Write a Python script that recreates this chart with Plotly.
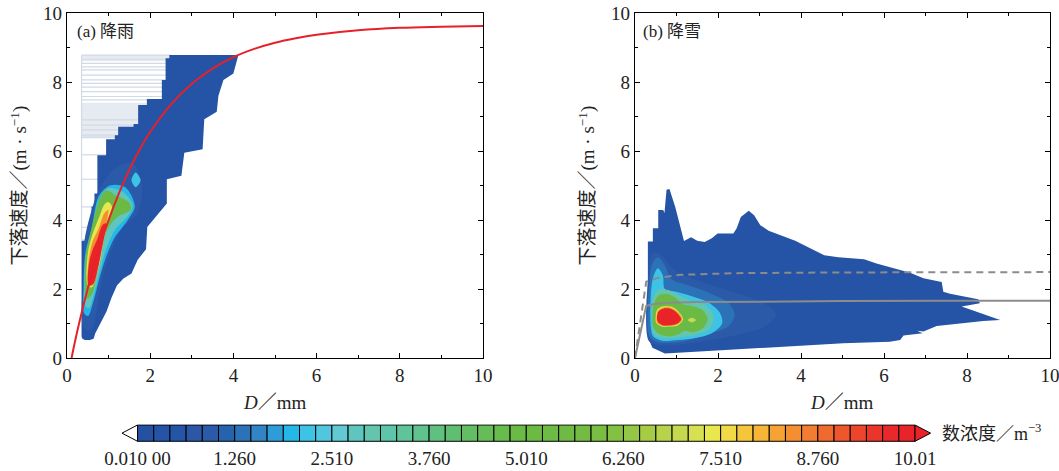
import plotly.graph_objects as go

W, H = 1059, 471

# ---------------- data ----------------
axis_ticks = [0, 2, 4, 6, 8, 10]

level_min, level_max = 0.01, 10.01
level_colors = [
    "#2451a2", "#2553a5", "#2455a7", "#2b57a6", "#2b5ba8", "#2563ad", "#2c72b8", "#3384c4",
    "#2c9dd8", "#24b7e8", "#3cc3e5", "#50c6df", "#62c9d3", "#5ec6bf", "#63c5ae", "#5ec5a8",
    "#5fc49a", "#60c28e", "#5fc080", "#60be72", "#62bd64", "#66bc56", "#68bb4d", "#6aba45",
    "#6cb944", "#6dba44", "#6eba44", "#74bb44", "#79bd43", "#84c143", "#93c745", "#a6cc46",
    "#b7d34c", "#c5d94f", "#d6e050", "#e8e74e", "#f0da45", "#f5c63c", "#f6b536", "#f6a333",
    "#f48f31", "#f27d30", "#f0692e", "#ee562d", "#ec452c", "#ea352b", "#e8282a", "#e82429",
]
cb_tickvals = [0.01, 1.26, 2.51, 3.76, 5.01, 6.26, 7.51, 8.76, 10.01]
cb_ticktext = ["0.010 00", "1.260", "2.510", "3.760", "5.010", "6.260", "7.510", "8.760", "10.01"]

# (a) rain: fitted fall-speed curve (red)
rain_fit_d = [0.11, 0.2, 0.3, 0.4, 0.5, 0.6, 0.8, 1.0, 1.25, 1.5, 1.75, 2.0, 2.5, 3.0, 3.5,
              4.0, 4.5, 5.0, 5.5, 6.0, 7.0, 8.0, 9.0, 10.0]
rain_fit_v = [0.0, 0.52, 1.05, 1.55, 2.02, 2.46, 3.28, 4.00, 4.78, 5.46, 6.05, 6.55, 7.35, 7.95, 8.39,
              8.72, 8.96, 9.14, 9.27, 9.37, 9.50, 9.57, 9.60, 9.62]

# (a) rain: density envelope and inner levels (D mm, V m/s), with level value
rain_env_val = 0.3
rain_env_d = [0.35, 0.35, 0.49, 0.49, 0.59, 0.59, 0.66, 0.66, 0.73, 0.73, 0.94, 0.94, 1.15, 1.15,
              1.23, 1.23, 1.60, 1.60, 1.71, 1.71, 1.92, 1.92, 2.28, 2.28, 2.37, 2.37, 2.46, 2.46,
              4.12, 4.00, 3.76, 3.64, 3.60, 3.30, 3.26, 2.82, 2.75, 2.40, 2.40, 2.20, 1.93, 1.90,
              1.70, 1.55, 1.35, 1.20, 1.07, 0.95, 0.80, 0.68, 0.64, 0.55, 0.43, 0.37]
rain_env_v = [0.62, 3.40, 3.40, 3.77, 3.77, 4.39, 4.39, 4.77, 4.77, 5.88, 5.88, 6.34, 6.34, 6.46,
              6.46, 6.70, 6.70, 6.78, 6.78, 7.33, 7.33, 7.51, 7.51, 8.06, 8.06, 8.69, 8.69, 8.78,
              8.78, 8.25, 8.06, 7.60, 7.14, 6.92, 6.05, 5.95, 5.28, 5.18, 4.48, 4.20, 3.80, 3.15,
              2.85, 2.45, 2.30, 2.10, 1.75, 1.35, 1.00, 0.72, 0.56, 0.52, 0.52, 0.56]

rain_halo_val = 1.0
rain_halo_d = [0.38, 0.50, 0.63, 0.72, 0.84, 1.03, 1.32, 1.70, 1.80, 1.58, 1.30, 1.03, 0.76, 0.62, 0.42, 0.38]
rain_halo_v = [0.95, 0.80, 0.90, 1.45, 2.25, 3.00, 3.75, 4.20, 5.00, 5.65, 5.60, 5.35, 4.85, 4.40, 3.40, 2.20]

rain_cyan_val = 1.95
rain_cyan_d = [0.41, 0.51, 0.63, 0.76, 0.93, 1.14, 1.45, 1.63, 1.40, 1.03, 0.76, 0.60, 0.44, 0.40]
rain_cyan_v = [1.30, 1.22, 1.62, 2.22, 2.90, 3.48, 3.98, 4.40, 4.95, 5.00, 4.68, 3.80, 3.03, 2.06]

rain_blob_val = 2.2
rain_blob_d = [1.55, 1.65, 1.77, 1.65]
rain_blob_v = [5.15, 5.38, 5.15, 4.95]

rain_teal_val = 2.8
rain_teal_d = [0.44, 0.53, 0.65, 0.78, 0.94, 1.16, 1.47, 1.58, 1.36, 1.00, 0.78, 0.61, 0.46, 0.42]
rain_teal_v = [1.50, 1.45, 1.86, 2.46, 3.16, 3.72, 4.12, 4.42, 4.80, 4.92, 4.62, 3.80, 3.00, 2.10]

rain_green_val = 4.9
rain_green_d = [0.46, 0.59, 0.71, 0.80, 0.96, 1.20, 1.53, 1.49, 1.16, 0.95, 0.82, 0.70, 0.58, 0.46, 0.43]
rain_green_v = [1.72, 1.82, 2.42, 3.01, 3.69, 4.08, 4.30, 4.52, 4.72, 4.86, 4.70, 4.30, 3.71, 3.03, 2.26]

rain_yellow_val = 7.4
rain_yellow_d = [0.50, 0.60, 0.71, 0.80, 0.88, 1.00, 1.08, 0.99, 0.90, 0.78, 0.62, 0.50]
rain_yellow_v = [2.10, 2.05, 2.42, 2.84, 3.42, 4.00, 4.39, 4.52, 4.45, 4.10, 3.61, 3.03]

rain_orange_val = 8.5
rain_orange_d = [0.52, 0.63, 0.75, 0.85, 0.95, 0.99, 0.89, 0.76, 0.62, 0.52]
rain_orange_v = [2.08, 2.12, 2.66, 3.28, 3.90, 4.30, 4.18, 3.75, 3.40, 2.85]

rain_red_val = 9.9
rain_red_d = [0.52, 0.63, 0.74, 0.82, 0.90, 0.94, 0.85, 0.73, 0.62, 0.53]
rain_red_v = [2.10, 2.15, 2.58, 3.05, 3.55, 3.90, 3.85, 3.45, 3.15, 2.75]

# (a) pale streak artefacts left of the envelope
streak_v = [3.42, 3.79, 4.38, 5.18, 5.89, 6.40, 6.46, 6.61, 6.75, 6.90, 7.48, 7.58, 7.72, 7.85,
            7.96, 8.06, 8.20, 8.35, 8.44, 8.54, 8.66, 8.78]
streak_end = [0.60, 0.80, 1.00, 1.00, 1.00, 2.50, 2.50, 2.50, 2.50, 2.50, 2.50, 2.50, 2.50, 2.50,
              2.50, 2.50, 2.50, 2.50, 2.50, 2.50, 2.50, 2.50]
streak_left = 0.35
pale_band_v = [6.36, 7.40]
pale_top_v = [8.60, 8.78]

# (b) snow: envelope and inner levels
snow_env_val = 0.3
snow_env_d = [0.31, 0.31, 0.43, 0.43, 0.56, 0.56, 0.68, 0.71, 0.76, 0.83, 0.97, 1.08, 1.18, 1.35,
              1.50, 1.68, 1.85, 1.99, 2.37, 2.45, 2.55, 2.74, 2.87, 3.02, 3.22, 3.86, 4.15, 4.56,
              4.90, 5.52, 5.82, 6.31, 6.63, 6.95, 7.39, 7.43, 7.59, 8.27, 8.31, 7.87, 8.80, 8.39,
              7.75, 7.51, 7.27, 6.95, 6.80, 6.93, 6.47, 6.39, 6.14, 5.02, 4.10, 2.97, 2.00, 1.20,
              0.72, 0.42, 0.31]
snow_env_v = [0.72, 3.38, 3.38, 3.76, 3.76, 4.29, 4.29, 4.20, 4.88, 4.90, 4.38, 3.90, 3.39, 3.50,
              3.40, 3.36, 3.47, 3.61, 3.61, 3.76, 4.09, 4.27, 4.14, 3.85, 3.69, 3.40, 3.23, 2.98,
              2.92, 2.86, 2.74, 2.57, 2.47, 2.31, 2.20, 1.92, 1.86, 1.70, 1.59, 1.49, 1.10, 1.07,
              1.00, 0.96, 0.93, 0.77, 0.79, 0.72, 0.65, 0.52, 0.47, 0.43, 0.37, 0.28, 0.23, 0.18,
              0.13, 0.30, 0.60]

snow_mid_val = 0.9
snow_mid_d = [0.33, 0.33, 0.42, 0.62, 0.95, 1.60, 2.40, 3.10, 3.40, 3.10, 2.40, 1.60, 1.00, 0.55]
snow_mid_v = [0.50, 2.50, 3.05, 3.00, 2.55, 2.20, 1.90, 1.60, 1.25, 0.90, 0.65, 0.48, 0.38, 0.38]

snow_halo_val = 1.4
snow_halo_d = [0.34, 0.34, 0.42, 0.55, 0.72, 0.88, 1.30, 1.80, 2.25, 2.40, 2.25, 1.80, 1.30, 0.90, 0.50]
snow_halo_v = [0.65, 2.10, 2.75, 2.92, 2.68, 2.28, 2.10, 1.88, 1.60, 1.25, 0.92, 0.70, 0.52, 0.44, 0.48]

snow_cyan_val = 2.2
snow_cyan_d = [0.38, 0.38, 0.44, 0.55, 0.67, 0.72, 1.00, 1.35, 1.75, 2.05, 2.10, 1.85, 1.45, 1.05, 0.65, 0.44]
snow_cyan_v = [0.90, 1.80, 2.35, 2.60, 2.40, 2.00, 1.92, 1.80, 1.62, 1.30, 1.00, 0.72, 0.58, 0.52, 0.50, 0.62]

snow_teal_val = 3.0
snow_teal_d = [0.41, 0.43, 0.55, 0.80, 1.05, 1.35, 1.70, 1.90, 1.80, 1.45, 1.10, 0.70, 0.47]
snow_teal_v = [1.00, 1.72, 1.97, 1.97, 1.82, 1.66, 1.52, 1.20, 0.84, 0.67, 0.61, 0.57, 0.68]

snow_green_val = 4.9
snow_green_d = [0.42, 0.45, 0.56, 0.75, 0.98, 1.15, 1.35, 1.60, 1.75, 1.64, 1.40, 1.20, 1.05, 0.80, 0.56, 0.43]
snow_green_v = [1.20, 1.56, 1.80, 1.86, 1.74, 1.56, 1.51, 1.41, 1.15, 0.87, 0.75, 0.79, 0.69, 0.63, 0.71, 0.92]

snow_yellow_val = 7.4
snow_yellow_d = [0.50, 0.53, 0.66, 0.86, 1.02, 1.16, 1.04, 0.85, 0.63, 0.51]
snow_yellow_v = [1.20, 1.39, 1.49, 1.49, 1.38, 1.12, 0.95, 0.91, 0.92, 1.02]

snow_orange_val = 8.5
snow_orange_d = [0.52, 0.55, 0.67, 0.86, 1.00, 1.14, 1.02, 0.85, 0.64, 0.53]
snow_orange_v = [1.20, 1.37, 1.46, 1.46, 1.36, 1.12, 0.97, 0.93, 0.94, 1.03]

snow_red_val = 9.9
snow_red_d = [0.53, 0.57, 0.68, 0.85, 0.98, 1.11, 1.01, 0.85, 0.65, 0.55]
snow_red_v = [1.20, 1.35, 1.43, 1.43, 1.34, 1.12, 0.99, 0.95, 0.96, 1.05]

snow_dot_val = 7.0
snow_dot_d = [1.27, 1.37, 1.47, 1.37]
snow_dot_v = [1.10, 1.17, 1.10, 1.03]

# (b) snow fall-speed relations (grey)
snow_solid_d = [0, 0.27, 0.5, 0.83, 1.5, 3.0, 5.0, 7.5, 10.0]
snow_solid_v = [0, 1.51, 1.57, 1.60, 1.62, 1.64, 1.65, 1.66, 1.66]
snow_dash_d = [0, 0.27, 0.52, 1.08, 2.45, 5.0, 10.0]
snow_dash_v = [0, 2.21, 2.31, 2.41, 2.46, 2.48, 2.49]

# ---------------- helpers ----------------
step = (level_max - level_min) / len(level_colors)


def color_of(val):
    i = int((val - level_min) / step)
    return level_colors[max(0, min(len(level_colors) - 1, i))]


def poly(d, v, val, xa, ya, smooth=True):
    c = color_of(val)
    return go.Scatter(
        x=list(d) + [d[0]], y=list(v) + [v[0]], mode="lines", fill="toself",
        fillcolor=c,
        line=dict(width=0, color=c, shape="spline" if smooth else "linear", smoothing=0.9),
        hoverinfo="skip", xaxis=xa, yaxis=ya,
    )


fig = go.Figure()

# ----- panel (a) -----
for band in (pale_band_v, pale_top_v):
    fig.add_trace(go.Scatter(
        x=[streak_left, 2.5, 2.5, streak_left, streak_left],
        y=[band[0], band[0], band[1], band[1], band[0]],
        mode="lines", fill="toself", fillcolor="#e6ebf2", line=dict(width=0),
        hoverinfo="skip", xaxis="x", yaxis="y"))
sx, sy = [], []
for v, e in zip(streak_v, streak_end):
    sx += [streak_left, e, None]
    sy += [v, v, None]
sx += [streak_left, streak_left, None]
sy += [streak_v[0], streak_v[-1], None]
fig.add_trace(go.Scatter(x=sx, y=sy, mode="lines", line=dict(color="#d2dae6", width=1.2),
                         hoverinfo="skip", xaxis="x", yaxis="y"))

fig.add_trace(poly(rain_env_d, rain_env_v, rain_env_val, "x", "y", smooth=False))
for d, v, val in [
    (rain_halo_d, rain_halo_v, rain_halo_val),
    (rain_cyan_d, rain_cyan_v, rain_cyan_val),
    (rain_blob_d, rain_blob_v, rain_blob_val),
    (rain_teal_d, rain_teal_v, rain_teal_val),
    (rain_green_d, rain_green_v, rain_green_val),
    (rain_yellow_d, rain_yellow_v, rain_yellow_val),
    (rain_orange_d, rain_orange_v, rain_orange_val),
    (rain_red_d, rain_red_v, rain_red_val),
]:
    fig.add_trace(poly(d, v, val, "x", "y"))

fig.add_trace(go.Scatter(x=rain_fit_d, y=rain_fit_v, mode="lines",
                         line=dict(color="#e62129", width=2, shape="spline"),
                         hoverinfo="skip", xaxis="x", yaxis="y"))

# ----- panel (b) -----
fig.add_trace(poly(snow_env_d, snow_env_v, snow_env_val, "x2", "y2", smooth=False))
for d, v, val in [
    (snow_mid_d, snow_mid_v, snow_mid_val),
    (snow_halo_d, snow_halo_v, snow_halo_val),
    (snow_cyan_d, snow_cyan_v, snow_cyan_val),
    (snow_teal_d, snow_teal_v, snow_teal_val),
    (snow_green_d, snow_green_v, snow_green_val),
    (snow_yellow_d, snow_yellow_v, snow_yellow_val),
    (snow_orange_d, snow_orange_v, snow_orange_val),
    (snow_red_d, snow_red_v, snow_red_val),
    (snow_dot_d, snow_dot_v, snow_dot_val),
]:
    fig.add_trace(poly(d, v, val, "x2", "y2"))

fig.add_trace(go.Scatter(x=snow_dash_d, y=snow_dash_v, mode="lines",
                         line=dict(color="#8c8c8c", width=2, dash="7px,5px"),
                         hoverinfo="skip", xaxis="x2", yaxis="y2"))
fig.add_trace(go.Scatter(x=snow_solid_d, y=snow_solid_v, mode="lines",
                         line=dict(color="#8c8c8c", width=2),
                         hoverinfo="skip", xaxis="x2", yaxis="y2"))

# ----- colour bar -----
fig.add_trace(go.Bar(
    x=[level_min + (i + 0.5) * step for i in range(len(level_colors))],
    y=[1] * len(level_colors), base=0, width=step,
    marker=dict(color=level_colors, line=dict(color="black", width=1)),
    hoverinfo="skip", xaxis="x3", yaxis="y3"))
fig.add_trace(go.Scatter(
    x=[level_min, level_min - 0.2, level_min, level_min], y=[0, 0.5, 1, 0],
    mode="lines", fill="toself", fillcolor="white", line=dict(color="black", width=1),
    hoverinfo="skip", xaxis="x3", yaxis="y3"))
fig.add_trace(go.Scatter(
    x=[level_max, level_max + 0.2, level_max, level_max], y=[0, 0.5, 1, 0],
    mode="lines", fill="toself", fillcolor=level_colors[-1], line=dict(color="black", width=1),
    hoverinfo="skip", xaxis="x3", yaxis="y3"))

# ---------------- layout ----------------
def px_x(p):
    return p / W


def px_y(p):
    return (H - p) / H


tick_font = dict(family="Liberation Serif, Times New Roman, serif", size=19, color="#222")
axis_common = dict(
    range=[0, 10], tickvals=axis_ticks, ticks="inside", ticklen=5, tickwidth=1.2, tickcolor="black",
    showline=True, linecolor="black", linewidth=1.3, mirror="allticks", showgrid=False,
    zeroline=False, tickfont=tick_font, automargin=False, ticklabeloverflow="allow",
    minor=dict(ticks="inside", dtick=1, ticklen=3, tickwidth=1, tickcolor="black", showgrid=False),
)
ydom = [px_y(358), px_y(13)]

fig.update_layout(
    width=W, height=H, margin=dict(l=0, r=0, t=0, b=0, autoexpand=False),
    paper_bgcolor="white", plot_bgcolor="rgba(0,0,0,0)", showlegend=False,
    xaxis=dict(domain=[px_x(67), px_x(483)], anchor="y", **axis_common),
    yaxis=dict(domain=ydom, anchor="x", **axis_common),
    xaxis2=dict(domain=[px_x(635), px_x(1050)], anchor="y2", **axis_common),
    yaxis2=dict(domain=ydom, anchor="x2", **axis_common),
    xaxis3=dict(domain=[px_x(118), px_x(934)], anchor="y3", automargin=False,
                range=[level_min - 0.251, level_max + 0.244], ticklabeloverflow="allow",
                tickvals=cb_tickvals, ticktext=cb_ticktext, ticks="", showline=False,
                showgrid=False, zeroline=False, tickfont=tick_font, ticklabelstandoff=3),
    yaxis3=dict(domain=[px_y(442.1), px_y(424.2)], anchor="x3", range=[-0.05, 1.05],
                visible=False, fixedrange=True, automargin=False),
)

cjk = "Liberation Serif, Noto Sans CJK SC, serif"
ann = []
ann.append(dict(text="(a) 降雨", x=px_x(75), y=px_y(32), xanchor="left", yanchor="middle", size=17))
ann.append(dict(text="(b) 降雪", x=px_x(641), y=px_y(32), xanchor="left", yanchor="middle", size=17))
for cx in (275, 842):
    ann.append(dict(text="<i>D</i>／mm", x=px_x(cx), y=px_y(402), xanchor="center",
                    yanchor="middle", size=19))
for cx in (19, 587):
    ann.append(dict(text="下落速度／(m · s<sup>−1</sup>)", x=px_x(cx), y=px_y(185.5),
                    xanchor="center", yanchor="middle", textangle=-90, size=19))
ann.append(dict(text="数浓度／m<sup>−3</sup>", x=px_x(940), y=px_y(432), xanchor="left",
                yanchor="middle", size=18))
final_ann = []
for a in ann:
    sz = a.pop("size")
    a.update(xref="paper", yref="paper", showarrow=False,
             font=dict(family=cjk, size=sz, color="#222"))
    final_ann.append(a)
fig.update_layout(annotations=final_ann)

fig.write_html("out.html")
